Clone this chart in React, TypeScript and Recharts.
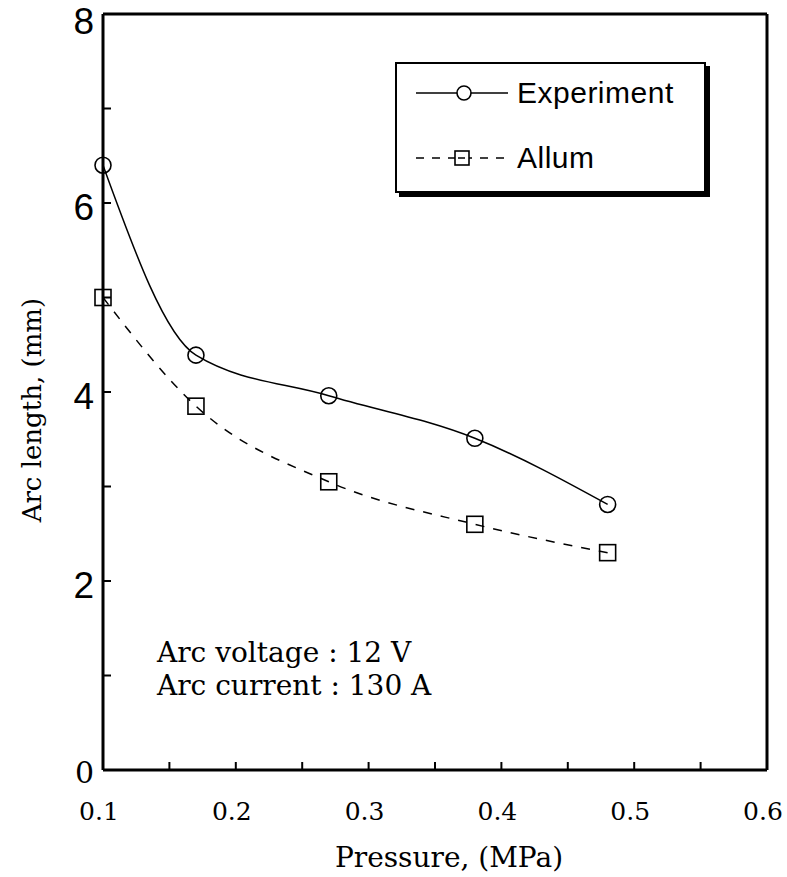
import React from "react";
import { Legend, Line, LineChart, XAxis, YAxis } from "recharts";

// pressure (MPa) and arc length (mm)
const pressure = [0.1, 0.17, 0.27, 0.38, 0.48];
const experiment = [6.4, 4.39, 3.96, 3.51, 2.81];
const allum = [5.0, 3.85, 3.05, 2.6, 2.3];

const xTicks = [0.1, 0.15, 0.2, 0.25, 0.3, 0.35, 0.4, 0.45, 0.5, 0.55, 0.6];
const yTicks = [0, 1, 2, 3, 4, 5, 6, 7, 8];
const notes = ["Arc voltage : 12 V", "Arc current : 130 A"];

const data = pressure.map((p, i) => ({ p, experiment: experiment[i], allum: allum[i] }));

const SERIF = "'DejaVu Serif', serif";
const SANS = "'Liberation Sans', Arial, sans-serif";

if (typeof document !== "undefined") {
  document.body.style.margin = "0";
  document.documentElement.style.overflow = "hidden";
  document.body.style.overflow = "hidden";
}

function SquareDot(props: any) {
  const { cx, cy } = props;
  if (cx == null || cy == null) return null;
  return <rect x={cx - 8} y={cy - 8} width={16} height={16} fill="none" stroke="#000" strokeWidth={1.6} />;
}

function YTick(props: any) {
  const { x, y, payload } = props;
  const v = payload.value;
  if (v % 2 !== 0) return null;
  const zero = v === 0;
  const top = v === yTicks[yTicks.length - 1];
  return (
    <text
      x={x}
      y={y + (zero ? 2 : top ? 7 : 4)}
      textAnchor="end"
      dominantBaseline="central"
      fontFamily={zero ? SERIF : SANS}
      fontSize={zero ? 30 : 37}
      fill="#000"
    >
      {v}
    </text>
  );
}

function LegendBox() {
  const row = { position: "absolute" as const, left: 0, display: "flex", alignItems: "center", height: 40 };
  return (
    <div
      style={{
        position: "relative",
        width: 311,
        height: 131,
        border: "2px solid #000",
        boxShadow: "4px 4px 0 #000",
        background: "#fff",
        fontFamily: SANS,
        fontSize: 30,
        color: "#000",
        boxSizing: "border-box",
      }}
    >
      <div style={{ ...row, top: 9 }}>
        <svg width={120} height={20}>
          <line x1={19} y1={10} x2={60} y2={10} stroke="#000" strokeWidth={1.5} />
          <line x1={74} y1={10} x2={111} y2={10} stroke="#000" strokeWidth={1.5} />
          <circle cx={67} cy={10} r={7} fill="none" stroke="#000" strokeWidth={1.6} />
        </svg>
        <span style={{ letterSpacing: 0.5 }}>Experiment</span>
      </div>
      <div style={{ ...row, top: 74 }}>
        <svg width={120} height={20}>
          <line x1={19} y1={10} x2={111} y2={10} stroke="#000" strokeWidth={1.5} strokeDasharray="8 8" />
          <rect x={58} y={3} width={14} height={14} fill="#fff" stroke="#000" strokeWidth={1.6} />
          <line x1={61} y1={10} x2={68} y2={10} stroke="#000" strokeWidth={1.5} />
        </svg>
        <span style={{ letterSpacing: 0.5 }}>Allum</span>
      </div>
    </div>
  );
}

function YLabel(props: any) {
  const { viewBox } = props;
  const x = viewBox.x + 32;
  const y = viewBox.y + viewBox.height * 0.524;
  return (
    <text
      x={x}
      y={y}
      transform={`rotate(-90 ${x} ${y})`}
      textAnchor="middle"
      dominantBaseline="central"
      fontFamily={SERIF}
      fontSize={26}
      fill="#000"
    >
      Arc length, (mm)
    </text>
  );
}

function XLabel(props: any) {
  const { viewBox } = props;
  return (
    <text
      x={viewBox.x + viewBox.width / 2 + 14}
      y={viewBox.y + viewBox.height - 10}
      textAnchor="middle"
      fontFamily={SERIF}
      fontSize={28}
      fill="#000"
    >
      Pressure, (MPa)
    </text>
  );
}

export default function App() {
  return (
    <div style={{ position: "absolute", left: 0, top: 0, width: 787, height: 877, background: "#fff" }}>
      <LineChart width={787} height={877} data={data} margin={{ top: 14, right: 20, bottom: 0, left: 0 }}>
        <XAxis
          xAxisId="bottom"
          dataKey="p"
          type="number"
          domain={[0.1, 0.6]}
          ticks={xTicks}
          interval={0}
          height={107}
          stroke="#000"
          axisLine={{ strokeWidth: 3 }}
          tickLine={{ strokeWidth: 2 }}
          tickSize={-8}
          tickMargin={40}
          tickFormatter={(v: number) => (Math.round(v * 100) % 10 === 0 ? v.toFixed(1) : "")}
          tick={{ fontFamily: SERIF, fontSize: 25, fill: "#000", dx: -4 }}
          label={<XLabel />}
        />
        <XAxis
          xAxisId="top"
          dataKey="p"
          type="number"
          orientation="top"
          domain={[0.1, 0.6]}
          ticks={xTicks}
          interval={0}
          height={1}
          mirror
          stroke="#000"
          axisLine={{ strokeWidth: 3 }}
          tickLine={{ strokeWidth: 2 }}
          tickSize={8}
          tick={false}
        />
        <YAxis
          yAxisId="left"
          domain={[0, 8]}
          ticks={yTicks}
          interval={0}
          width={103}
          stroke="#000"
          axisLine={{ strokeWidth: 3 }}
          tickLine={{ strokeWidth: 2 }}
          tickSize={-8}
          tickMargin={17}
          tick={<YTick />}
          label={<YLabel />}
        />
        <YAxis
          yAxisId="right"
          orientation="right"
          domain={[0, 8]}
          ticks={yTicks}
          interval={0}
          width={1}
          mirror
          stroke="#000"
          axisLine={{ strokeWidth: 3 }}
          tickLine={{ strokeWidth: 2 }}
          tickSize={8}
          tick={false}
        />
        <Legend
          layout="horizontal"
          verticalAlign="middle"
          align="center"
          content={() => <LegendBox />}
          wrapperStyle={{ left: 395, top: 62, width: 316, height: 136 }}
        />
        <Line
          xAxisId="bottom"
          yAxisId="left"
          type="monotone"
          dataKey="experiment"
          name="Experiment"
          stroke="#000"
          strokeWidth={1.5}
          dot={{ r: 8, fill: "none", stroke: "#000", strokeWidth: 1.6 }}
          isAnimationActive={false}
        />
        <Line
          xAxisId="bottom"
          yAxisId="left"
          type="monotone"
          dataKey="allum"
          name="Allum"
          stroke="#000"
          strokeWidth={1.5}
          strokeDasharray="9 9"
          dot={<SquareDot />}
          isAnimationActive={false}
        />
      </LineChart>
      <div
        style={{
          position: "absolute",
          left: 157,
          top: 636,
          fontFamily: SERIF,
          fontSize: 28,
          lineHeight: "33px",
          color: "#000",
          whiteSpace: "pre",
        }}
      >
        {notes.map((n) => (
          <div key={n}>{n}</div>
        ))}
      </div>
    </div>
  );
}
